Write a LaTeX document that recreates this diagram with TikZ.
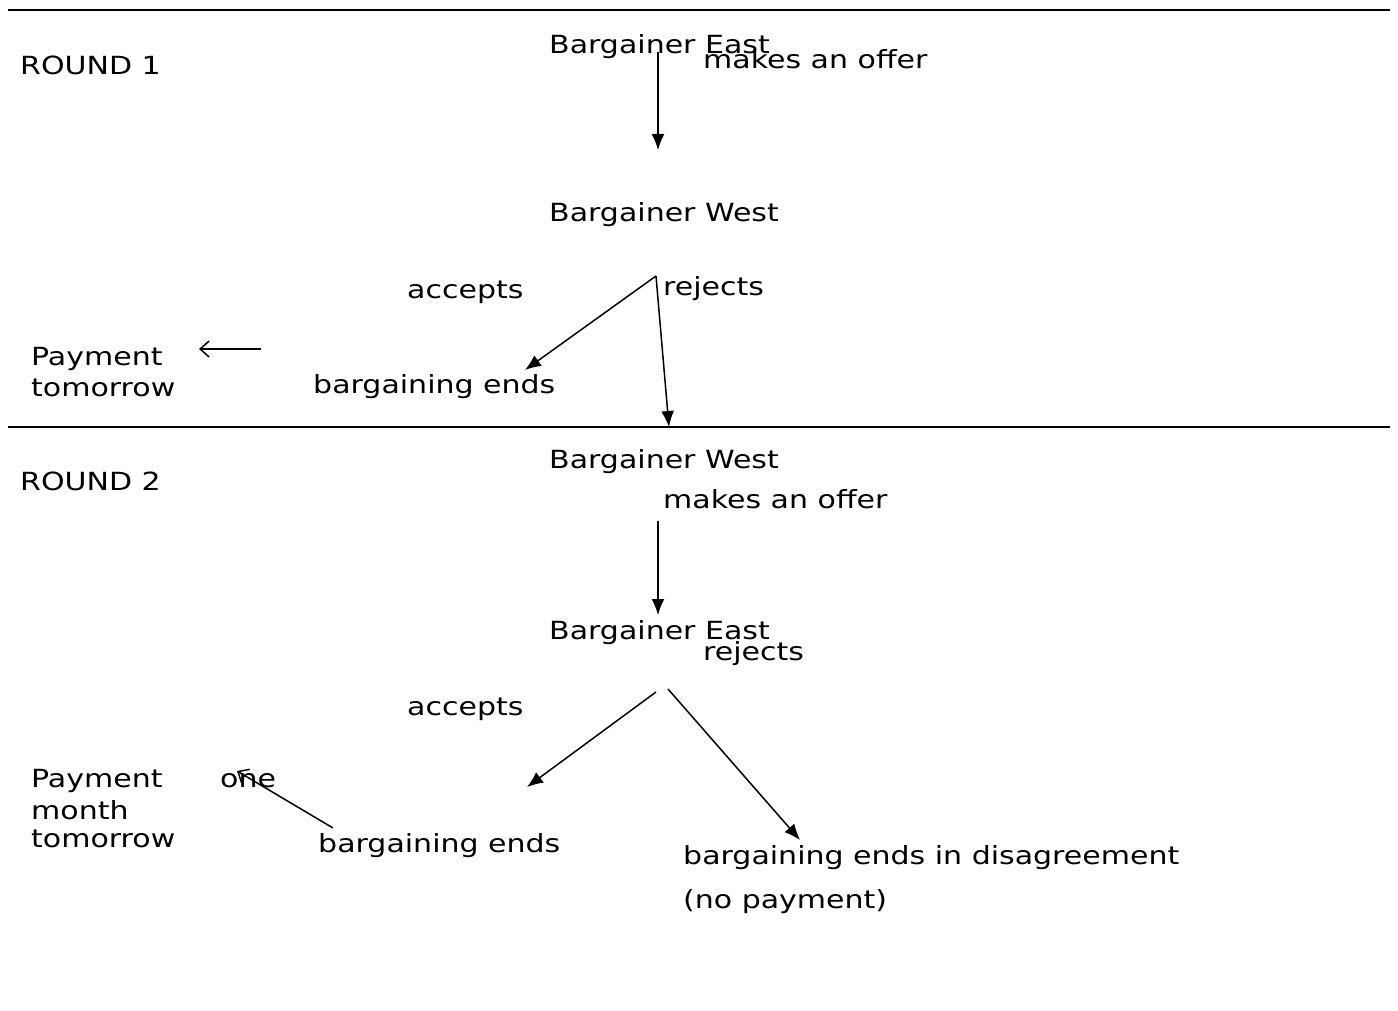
\documentclass[tikz,border=0pt]{standalone}
\usepackage{fontspec}
\setmainfont[FakeStretch=1.2]{DejaVu Sans}
\usetikzlibrary{arrows.meta}
\begin{document}
\begin{tikzpicture}[x=1pt,y=-1pt,
  lbl/.style={anchor=west,inner sep=0pt,yshift=-2pt,font=\fontsize{25}{30}\selectfont},
  sep/.style={line width=2pt},
  fa/.style={line width=1.5pt,-{Latex[length=16pt,width=13pt]}},
  oa/.style={line width=1.5pt,-{Straight Barb[length=9pt,width=16pt,line width=1.5pt]}}]
\useasboundingbox (0,0) rectangle (1398,1011);
% separators
\coordinate (l1a) at (8,10); \coordinate (l1b) at (1390,10);
\coordinate (l2a) at (8,427); \coordinate (l2b) at (1390,427);
\draw[sep] (l1a) -- (l1b);
\draw[sep] (l2a) -- (l2b);
% round 1
\node[lbl] (r1) at (20,63) {ROUND 1};
\node[lbl] (e1) at (549,45) {Bargainer East};
\node[lbl] (o1) at (703,57) {makes an offer};
\node[lbl] (w1) at (549,213) {Bargainer West};
\node[lbl] (ac1) at (407,290) {accepts};
\node[lbl] (rj1) at (663,287) {rejects};
\node[lbl] (p1) at (31,357) {Payment};
\node[lbl] (t1) at (31,386) {tomorrow};
\node[lbl] (be1) at (313,385) {bargaining ends};
\coordinate (a1s) at (658,52); \coordinate (a1e) at (658,150);
\coordinate (b1) at (656,276); \coordinate (b1l) at (525,370); \coordinate (b1r) at (669,427);
\coordinate (pa1s) at (261,349); \coordinate (pa1e) at (199,349);
\draw[fa] (a1s) -- (a1e);
\draw[fa] (b1) -- (b1l);
\draw[fa] (b1) -- (b1r);
\draw[oa] (pa1s) -- (pa1e);
% round 2
\node[lbl] (r2) at (20,479) {ROUND 2};
\node[lbl] (w2) at (549,460) {Bargainer West};
\node[lbl] (o2) at (663,497) {makes an offer};
\node[lbl] (e2) at (549,631) {Bargainer East};
\node[lbl] (rj2) at (703,652) {rejects};
\node[lbl] (ac2) at (407,707) {accepts};
\node[lbl] (p2) at (31,779) {Payment};
\node[lbl] (m2) at (31,808) {month};
\node[lbl] (t2) at (31,837) {tomorrow};
\node[lbl] (one) at (220,779) {one};
\node[lbl] (be2) at (318,844) {bargaining ends};
\node[lbl] (bd) at (683,856) {bargaining ends in disagreement};
\node[lbl] (np) at (683,900) {(no payment)};
\coordinate (a2s) at (658,521); \coordinate (a2e) at (658,615);
\coordinate (b2l0) at (656,692); \coordinate (b2l) at (527,787);
\coordinate (b2r0) at (668,689); \coordinate (b2r) at (800,840);
\coordinate (pa2s) at (333,828); \coordinate (pa2e) at (237,771);
\draw[fa] (a2s) -- (a2e);
\draw[fa] (b2l0) -- (b2l);
\draw[fa] (b2r0) -- (b2r);
\draw[oa] (pa2s) -- (pa2e);
\end{tikzpicture}
\end{document}
